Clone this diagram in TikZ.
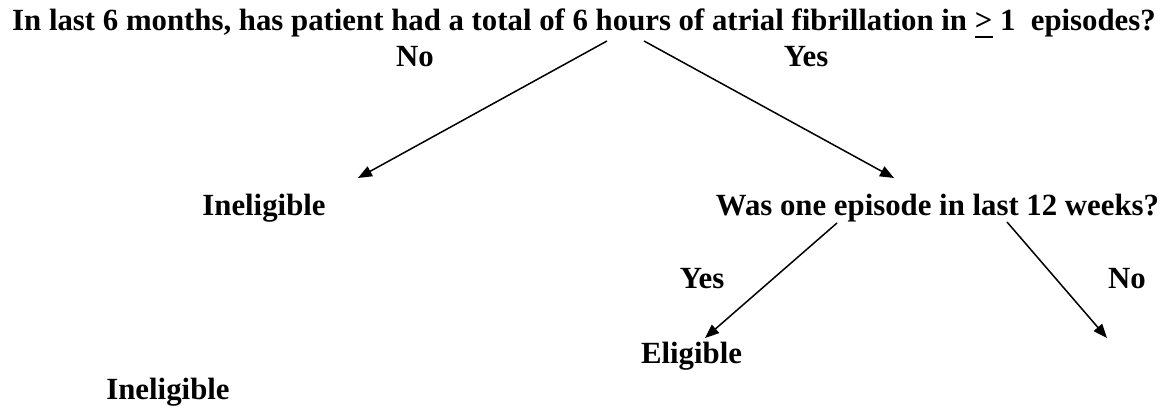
\documentclass[tikz,border=0pt]{standalone}
\usepackage{fontspec}
\setmainfont{Liberation Serif}
\usetikzlibrary{arrows.meta}
\newcommand\ulgt{\leavevmode\rlap{\rule[-0.24em]{0.58em}{0.09em}}>}
\begin{document}
\begin{tikzpicture}[x=1pt,y=-1pt,
  lbl/.style={inner sep=0pt,anchor=base,font=\fontsize{30.8}{36}\selectfont\bfseries},
  conn/.style={line width=1.5pt,-{Triangle[length=14pt,width=11pt]}}]
\useasboundingbox (0,0) rectangle (1172,409);
\node[lbl,anchor=base west] (q1) at (12,31) {In last 6 months, has patient had a total of 6 hours of atrial fibrillation in \ulgt{} 1\ \ episodes?};
\node[lbl] (no1) at (415,67) {No};
\node[lbl] (yes1) at (806,67) {Yes};
\node[lbl] (inel1) at (264,215) {Ineligible};
\node[lbl] (q2) at (937.5,215) {Was one episode in last 12 weeks?};
\node[lbl] (yes2) at (702,288) {Yes};
\node[lbl] (no2) at (1127,288) {No};
\node[lbl] (elig) at (691.5,363) {Eligible};
\node[lbl] (inel2) at (168,399) {Ineligible};
\coordinate (s1) at (607,41);
\coordinate (e1) at (358,178);
\coordinate (s2) at (644,41);
\coordinate (e2) at (894,178);
\coordinate (s3) at (837,223);
\coordinate (e3) at (705,338);
\coordinate (s4) at (1007,222);
\coordinate (e4) at (1107,338);
\draw[conn] (s1) -- (e1);
\draw[conn] (s2) -- (e2);
\draw[conn] (s3) -- (e3);
\draw[conn] (s4) -- (e4);
\end{tikzpicture}
\end{document}
